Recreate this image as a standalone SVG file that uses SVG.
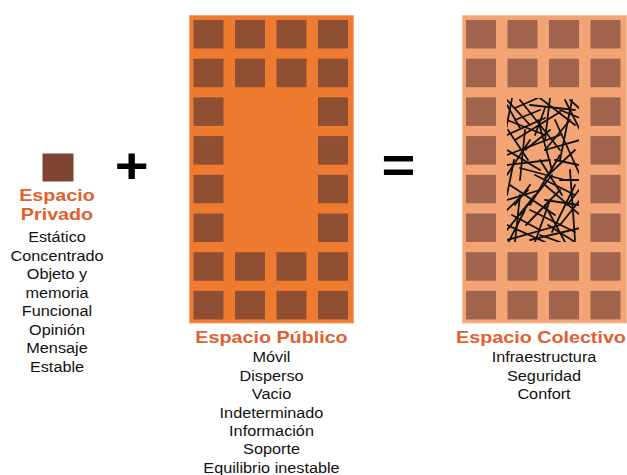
<svg xmlns="http://www.w3.org/2000/svg" width="627" height="475" viewBox="0 0 627 475">
<defs>
<style>
.t{font-family:"Liberation Sans",Arial,Helvetica,sans-serif;text-anchor:middle}
.title{font-size:17px;font-weight:bold;fill:#E0602E}
.body{font-size:14px;fill:#111}
.op{font-size:50px;font-weight:bold;fill:#000}
.ps{fill:#8E4F32}
.cs{fill:#A0644C}
.scr line{stroke:#111;stroke-width:1.8;stroke-linecap:round}
</style>
<clipPath id="scrclip"><rect x="507" y="98" width="72" height="144"/></clipPath>
<g id="pubrow4"><rect class="ps" x="193.5" y="0" width="30" height="28.5"/><rect class="ps" x="235" y="0" width="30" height="28.5"/><rect class="ps" x="276.5" y="0" width="30" height="28.5"/><rect class="ps" x="318" y="0" width="30" height="28.5"/></g>
<g id="pubrow2"><rect class="ps" x="193.5" y="0" width="30" height="28.5"/><rect class="ps" x="318" y="0" width="30" height="28.5"/></g>
<g id="colrow4"><rect class="cs" x="466" y="0" width="30" height="28.5"/><rect class="cs" x="507.5" y="0" width="30" height="28.5"/><rect class="cs" x="549" y="0" width="30" height="28.5"/><rect class="cs" x="590.5" y="0" width="30" height="28.5"/></g>
<g id="colrow2"><rect class="cs" x="466" y="0" width="30" height="28.5"/><rect class="cs" x="590.5" y="0" width="30" height="28.5"/></g>
</defs>
<rect width="627" height="475" fill="#fff"/>

<g id="node-private">
<rect x="42.5" y="153.5" width="31" height="28" fill="#7E4433"/>
<g transform="translate(57 0) scale(1.16 1)">
<text class="t title" x="0" y="201">Espacio</text>
<text class="t title" x="0" y="220.5">Privado</text>
<text class="t body" x="0" y="242.5">Estático</text>
<text class="t body" x="0" y="261">Concentrado</text>
<text class="t body" x="0" y="279.4">Objeto y</text>
<text class="t body" x="0" y="297.8">memoria</text>
<text class="t body" x="0" y="316.3">Funcional</text>
<text class="t body" x="0" y="334.7">Opinión</text>
<text class="t body" x="0" y="353.2">Mensaje</text>
<text class="t body" x="0" y="371.6">Estable</text>
</g>
</g>

<g id="op-plus" transform="translate(131.7 0) scale(1.16 1)">
<text class="t op" x="0" y="183">+</text>
</g>

<g id="node-public">
<rect x="189.5" y="15.5" width="164" height="307.5" fill="#EE7B2F" stroke="#F3A271" stroke-width="1"/>
<use href="#pubrow4" y="20"/>
<use href="#pubrow4" y="58.7"/>
<use href="#pubrow2" y="97.4"/>
<use href="#pubrow2" y="136.1"/>
<use href="#pubrow2" y="174.8"/>
<use href="#pubrow2" y="213.5"/>
<use href="#pubrow4" y="252.2"/>
<use href="#pubrow4" y="290.9"/>
<g transform="translate(271.5 0) scale(1.16 1)">
<text class="t title" x="0" y="343.3">Espacio Público</text>
<text class="t body" x="0" y="362.5">Móvil</text>
<text class="t body" x="0" y="380.9">Disperso</text>
<text class="t body" x="0" y="399.3">Vacio</text>
<text class="t body" x="0" y="417.7">Indeterminado</text>
<text class="t body" x="0" y="436.1">Información</text>
<text class="t body" x="0" y="454.5">Soporte</text>
<text class="t body" x="0" y="472.9">Equilibrio inestable</text>
</g>
</g>

<g id="op-equals" transform="translate(398.3 0) scale(1.16 1)">
<text class="t op" x="0" y="183.5">=</text>
</g>

<g id="node-collective">
<rect x="462.5" y="15.5" width="164" height="307.5" fill="#F2A474" stroke="#F6C19E" stroke-width="1"/>
<use href="#colrow4" y="20"/>
<use href="#colrow4" y="58.7"/>
<use href="#colrow2" y="97.4"/>
<use href="#colrow2" y="136.1"/>
<use href="#colrow2" y="174.8"/>
<use href="#colrow2" y="213.5"/>
<use href="#colrow4" y="252.2"/>
<use href="#colrow4" y="290.9"/>
<g class="scr" clip-path="url(#scrclip)">
<line x1="507" y1="100" x2="530" y2="125"/>
<line x1="512" y1="98" x2="505" y2="135"/>
<line x1="520" y1="100" x2="560" y2="150"/>
<line x1="540" y1="98" x2="575" y2="125"/>
<line x1="565" y1="100" x2="580" y2="130"/>
<line x1="530" y1="105" x2="575" y2="110"/>
<line x1="550" y1="98" x2="545" y2="140"/>
<line x1="507" y1="120" x2="545" y2="135"/>
<line x1="515" y1="140" x2="560" y2="112"/>
<line x1="572" y1="100" x2="560" y2="160"/>
<line x1="507" y1="150" x2="540" y2="170"/>
<line x1="525" y1="130" x2="520" y2="180"/>
<line x1="545" y1="150" x2="580" y2="140"/>
<line x1="555" y1="120" x2="580" y2="175"/>
<line x1="507" y1="165" x2="550" y2="160"/>
<line x1="535" y1="175" x2="575" y2="195"/>
<line x1="560" y1="155" x2="530" y2="205"/>
<line x1="510" y1="185" x2="555" y2="215"/>
<line x1="507" y1="200" x2="540" y2="190"/>
<line x1="545" y1="185" x2="580" y2="215"/>
<line x1="570" y1="170" x2="575" y2="240"/>
<line x1="520" y1="195" x2="515" y2="242"/>
<line x1="530" y1="210" x2="575" y2="232"/>
<line x1="507" y1="225" x2="545" y2="242"/>
<line x1="550" y1="200" x2="535" y2="242"/>
<line x1="560" y1="225" x2="580" y2="200"/>
<line x1="512" y1="215" x2="540" y2="230"/>
<line x1="507" y1="240" x2="560" y2="225"/>
<line x1="565" y1="242" x2="545" y2="205"/>
<line x1="508" y1="130" x2="528" y2="160"/>
<line x1="538" y1="120" x2="552" y2="170"/>
<line x1="560" y1="135" x2="507" y2="155"/>
<line x1="515" y1="108" x2="538" y2="98"/>
<line x1="575" y1="150" x2="545" y2="178"/>
<line x1="507" y1="175" x2="530" y2="140"/>
<line x1="520" y1="168" x2="565" y2="180"/>
<line x1="540" y1="160" x2="562" y2="195"/>
<line x1="575" y1="185" x2="552" y2="232"/>
<line x1="507" y1="210" x2="528" y2="190"/>
<line x1="526" y1="225" x2="560" y2="190"/>
<line x1="530" y1="240" x2="580" y2="228"/>
<line x1="560" y1="110" x2="580" y2="118"/>
<line x1="507" y1="105" x2="520" y2="128"/>
<line x1="535" y1="195" x2="507" y2="230"/>
<line x1="548" y1="225" x2="575" y2="242"/>
<line x1="567" y1="205" x2="579" y2="190"/>
<line x1="514" y1="160" x2="507" y2="195"/>
<line x1="545" y1="108" x2="535" y2="135"/>
<line x1="552" y1="175" x2="520" y2="215"/>
<line x1="570" y1="120" x2="545" y2="150"/>
<line x1="507" y1="135" x2="545" y2="118"/>
<line x1="525" y1="150" x2="550" y2="130"/>
<line x1="555" y1="160" x2="579" y2="165"/>
<line x1="507" y1="245" x2="525" y2="210"/>
<line x1="540" y1="235" x2="560" y2="242"/>
<line x1="570" y1="100" x2="579" y2="108"/>
<line x1="515" y1="120" x2="540" y2="110"/>
<line x1="560" y1="180" x2="579" y2="180"/>
<line x1="530" y1="185" x2="515" y2="205"/>
<line x1="545" y1="200" x2="579" y2="205"/>
</g>
<g transform="translate(544 0) scale(1.16 1)">
<text class="t title" x="-2.6" y="343.3">Espacio Colectivo</text>
<text class="t body" x="0" y="362.5">Infraestructura</text>
<text class="t body" x="0" y="380.9">Seguridad</text>
<text class="t body" x="0" y="399.3">Confort</text>
</g>
</g>
</svg>
